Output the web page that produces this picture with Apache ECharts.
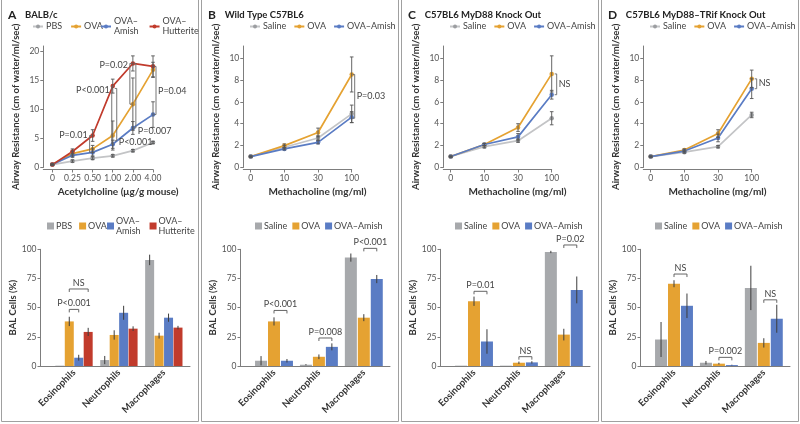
<!DOCTYPE html>
<html><head><meta charset="utf-8">
<script src="https://cdn.jsdelivr.net/npm/echarts@6/dist/echarts.min.js"></script>
<style>html,body{margin:0;padding:0;background:#fff}#c{width:800px;height:424px}</style>
</head><body><div id="c"></div>
<script>
// ================= DATA =================
const doseA = ['0', '0.25', '0.50', '1.00', '2.00', '4.00'];
const doseM = ['0', '10', '30', '100'];
const cellTypes = ['Eosinophils', 'Neutrophils', 'Macrophages'];
const panelLetters = ['A', 'B', 'C', 'D'];
const panelTitles = ['BALB/c', 'Wild Type C57BL6', 'C57BL6 MyD88 Knock Out', 'C57BL6 MyD88–TRif Knock Out'];
const yTicksA = [0, 5, 10, 15, 20];
const yTicksM = [0, 2, 4, 6, 8, 10];

const aPBS = [0.5, 1.1, 1.6, 2.0, 2.9, 4.3];
const aPBSErr = [0.1, 0.2, 0.25, 0.2, 0.2, 0.2];
const aOVA = [0.5, 2.4, 3.2, 5.5, 10.9, 16.8];
const aOVAErr = [0.1, 0.4, 0.6, 2.5, 4.5, 1.3];
const aAmish = [0.5, 2.1, 2.6, 4.0, 6.8, 9.1];
const aAmishErr = [0.1, 0.35, 0.6, 0.7, 1.1, 2.2];
const aHut = [0.5, 2.75, 5.5, 14.0, 17.9, 17.4];
const aHutErr = [0.1, 0.45, 1.0, 1.2, 1.3, 1.8];
const aBrackets = [
  [2, 5.5, 2.6, 'P=0.01', 5.6],
  [3, 14.0, 4.0, 'P<0.001', 13.4],
  [3, 13.6, 4.6, 'P<0.001', 4.3],
  [4, 17.9, 10.9, 'P=0.02', 17.7],
  [4, 17.9, 6.8, 'P=0.007', 6.2],
  [5, 17.4, 9.1, 'P=0.04', 13.2]
];

const bSaline = [1.0, 1.85, 2.7, 4.9];
const bSalineErr = [0.05, 0.15, 0.2, 0.8];
const bOVA = [1.0, 2.0, 3.2, 8.5];
const bOVAErr = [0.05, 0.15, 0.4, 1.6];
const bAmish = [1.0, 1.7, 2.3, 4.6];
const bAmishErr = [0.05, 0.1, 0.15, 0.5];
const bBrackets = [[3, 8.5, 4.5, 'P=0.03', 6.5]];

const cSaline = [1.0, 1.9, 2.45, 4.5];
const cSalineErr = [0.05, 0.1, 0.15, 0.6];
const cOVA = [1.0, 2.1, 3.65, 8.55];
const cOVAErr = [0.05, 0.1, 0.35, 1.65];
const cAmish = [1.0, 2.1, 2.8, 6.65];
const cAmishErr = [0.05, 0.1, 0.3, 0.4];
const cBrackets = [[3, 8.55, 6.65, 'NS', 7.6]];

const dSaline = [1.0, 1.4, 1.9, 4.8];
const dSalineErr = [0.05, 0.1, 0.1, 0.25];
const dOVA = [1.0, 1.6, 3.1, 8.1];
const dOVAErr = [0.05, 0.1, 0.35, 0.8];
const dAmish = [1.0, 1.5, 2.7, 7.2];
const dAmishErr = [0.05, 0.1, 0.35, 0.9];
const dBrackets = [[3, 8.1, 7.2, 'NS', 7.7]];

const balA_PBS = [0.3, 5.1, 90.9];   const balA_PBSErr = [0, 3.5, 4.5];
const balA_OVA = [38.2, 26.6, 26.0]; const balA_OVAErr = [4, 4, 2.5];
const balA_Amish = [7.1, 45.6, 41.4]; const balA_AmishErr = [2.5, 6, 3.5];
const balA_Hut = [29.2, 32.0, 32.9]; const balA_HutErr = [3.5, 2, 1.5];
const balA_Brackets = [[0, 1, 2, 48.5, 'P<0.001'], [0, 1, 3, 66, 'NS']];

const balB_Saline = [4.5, 1.1, 92.9]; const balB_SalineErr = [4, 0.5, 3.5];
const balB_OVA = [38.2, 7.9, 41.4];   const balB_OVAErr = [3.5, 2, 3];
const balB_Amish = [4.5, 16.4, 74.5]; const balB_AmishErr = [1.5, 3, 3.5];
const balB_Brackets = [[0, 1, 2, 47.6, 'P<0.001'], [1, 1, 2, 24, 'P=0.008'], [2, 1, 2, 100.8, 'P<0.001']];

const balC_Saline = [0.3, 0.3, 97.7]; const balC_SalineErr = [0, 0, 1];
const balC_OVA = [55.5, 2.8, 26.9];   const balC_OVAErr = [4, 1, 5];
const balC_Amish = [21.0, 3.1, 65.2]; const balC_AmishErr = [10.5, 1, 11.5];
const balC_Brackets = [[0, 1, 2, 64, 'P=0.01'], [1, 1, 2, 8, 'NS'], [2, 1, 2, 103.7, 'P=0.02']];

const balD_Saline = [22.7, 2.8, 66.9]; const balD_SalineErr = [15, 1.5, 19];
const balD_OVA = [70.5, 2.0, 19.8];    const balD_OVAErr = [3, 0.7, 4];
const balD_Amish = [51.6, 0.8, 40.5];  const balD_AmishErr = [10.5, 0.3, 12];
const balD_Brackets = [[0, 1, 2, 78.8, 'NS'], [1, 1, 2, 7.4, 'P=0.002'], [2, 1, 2, 56.7, 'NS']];

// ================= STYLE =================
const FONT = 'Lato';
const COL = { pbs: '#a7a9ac', pbsLine: '#c3c4c6', ova: '#e5a232', amish: '#5a7cc4', hut: '#c13b2c',
  axis: '#7d7d7d', tick: '#555', name: '#333', err: '#555', frame: '#a0a0a0' };

const grids = [], xAxes = [], yAxes = [], series = [], legends = [], titles = [], graphics = [];

function axisCommon() {
  return {
    axisLine: { onZero: false, lineStyle: { color: COL.axis, width: 1 } },
    axisTick: { length: 3, lineStyle: { color: COL.axis } },
    splitLine: { show: false },
    axisLabel: { fontSize: 8.5, color: COL.tick, fontFamily: FONT, margin: 4 }
  };
}

function errSeries(gi, vals, errs, cap) {
  return {
    type: 'custom', xAxisIndex: gi, yAxisIndex: gi, silent: true, z: 4, clip: false,
    data: vals.map((v, i) => [i, v - errs[i], v + errs[i]]),
    renderItem(params, api) {
      const lo = api.coord([api.value(0), api.value(1)]);
      const hi = api.coord([api.value(0), api.value(2)]);
      const st = { stroke: COL.err, lineWidth: 0.9 };
      return { type: 'group', children: [
        { type: 'line', shape: { x1: lo[0], y1: lo[1], x2: hi[0], y2: hi[1] }, style: st },
        { type: 'line', shape: { x1: lo[0] - cap, y1: lo[1], x2: lo[0] + cap, y2: lo[1] }, style: st },
        { type: 'line', shape: { x1: hi[0] - cap, y1: hi[1], x2: hi[0] + cap, y2: hi[1] }, style: st }
      ] };
    }
  };
}

function lineBracketSeries(gi, brackets, styles) {
  return {
    type: 'custom', xAxisIndex: gi, yAxisIndex: gi, silent: true, z: 6, clip: false,
    data: brackets.map(b => [b[0], b[1], b[2]]),
    renderItem(params, api) {
      const b = brackets[params.dataIndex], s = styles[params.dataIndex];
      const p1 = api.coord([b[0], b[1]]), p2 = api.coord([b[0], b[2]]), pl = api.coord([b[0], b[4]]);
      const x = p1[0] + s.dx;
      const t = s.dx < 0 ? 2 : -2;
      const st = { stroke: '#666', lineWidth: 0.9 };
      return { type: 'group', children: [
        { type: 'line', shape: { x1: x, y1: p1[1], x2: x, y2: p2[1] }, style: st },
        { type: 'line', shape: { x1: x, y1: p1[1], x2: x + t, y2: p1[1] }, style: st },
        { type: 'line', shape: { x1: x, y1: p2[1], x2: x + t, y2: p2[1] }, style: st },
        { type: 'text', x: s.side === 'left' ? x - 2 : x + 2, y: pl[1],
          style: { text: b[3], align: s.side === 'left' ? 'right' : 'left', verticalAlign: 'middle',
            fill: '#444', fontSize: 9, fontFamily: FONT } }
      ] };
    }
  };
}

function linePanel(k, cats, xMin, yMax, yTicks, xName, defs, brackets, bStyles) {
  const gi = grids.length;
  const width = k === 0 ? 109.7 : 108.4;
  grids.push({ left: 43.3 + 200 * k, top: 46, width: width, height: 121.5 });
  const idx = cats.map((c, i) => i);
  const xa = axisCommon();
  xAxes.push(Object.assign(xa, {
    gridIndex: gi, type: 'value', min: xMin, max: cats.length - 1, offset: 2,
    axisTick: Object.assign(xa.axisTick, { customValues: idx }),
    axisLabel: Object.assign(xa.axisLabel, { customValues: idx, formatter: v => cats[Math.round(v)] }),
    name: xName, nameLocation: 'middle', nameGap: 17,
    nameTextStyle: { fontSize: 10, fontWeight: 'bold', color: COL.name, fontFamily: FONT, padding: [0, 0, 0, 40] }
  }));
  const ya = axisCommon();
  yAxes.push(Object.assign(ya, {
    gridIndex: gi, type: 'value', min: 0, max: yMax,
    axisTick: Object.assign(ya.axisTick, { customValues: yTicks }),
    axisLabel: Object.assign(ya.axisLabel, { customValues: yTicks }),
    name: 'Airway Resistance (cm of water/ml/sec)', nameLocation: 'middle', nameGap: 22,
    nameTextStyle: { fontSize: 9.5, fontWeight: 'bold', color: COL.name, fontFamily: FONT }
  }));
  defs.forEach(d => {
    series.push({
      type: 'line', name: d.name, xAxisIndex: gi, yAxisIndex: gi, z: 3,
      data: d.vals.map((v, i) => [i, v]), symbol: 'circle', symbolSize: 4.5,
      lineStyle: { color: d.line || d.color, width: 1.7 },
      itemStyle: { color: d.color }
    });
    series.push(errSeries(gi, d.vals, d.errs, 1.8));
  });
  series.push(lineBracketSeries(gi, brackets, bStyles));
}

function barErrSeries(gi, sIdx, n, bw, gapR, vals, errs) {
  const step = bw * (1 + gapR);
  const off = (sIdx - (n - 1) / 2) * step;
  return {
    type: 'custom', xAxisIndex: gi, yAxisIndex: gi, silent: true, z: 4, clip: false,
    data: vals.map((v, i) => [i, v - errs[i], v + errs[i]]),
    renderItem(params, api) {
      if (api.value(2) - api.value(1) <= 0) return null;
      const lo = api.coord([api.value(0), Math.max(0, api.value(1))]);
      const hi = api.coord([api.value(0), api.value(2)]);
      return { type: 'line', shape: { x1: lo[0] + off, y1: lo[1], x2: hi[0] + off, y2: hi[1] },
        style: { stroke: '#3d3d3d', lineWidth: 1 } };
    }
  };
}

function barBracketSeries(gi, n, bw, gapR, brackets) {
  const step = bw * (1 + gapR);
  return {
    type: 'custom', xAxisIndex: gi, yAxisIndex: gi, silent: true, z: 6, clip: false,
    data: brackets.map(b => [b[0], b[3]]),
    renderItem(params, api) {
      const b = brackets[params.dataIndex];
      const p = api.coord([b[0], b[3]]);
      const x1 = p[0] + (b[1] - (n - 1) / 2) * step, x2 = p[0] + (b[2] - (n - 1) / 2) * step;
      const st = { stroke: '#555', lineWidth: 0.9 };
      return { type: 'group', children: [
        { type: 'line', shape: { x1: x1, y1: p[1], x2: x2, y2: p[1] }, style: st },
        { type: 'line', shape: { x1: x1, y1: p[1], x2: x1, y2: p[1] + 3 }, style: st },
        { type: 'line', shape: { x1: x2, y1: p[1], x2: x2, y2: p[1] + 3 }, style: st },
        { type: 'text', x: (x1 + x2) / 2, y: p[1] - 1.5,
          style: { text: b[4], align: 'center', verticalAlign: 'bottom', fill: '#444', fontSize: 9, fontFamily: FONT } }
      ] };
    }
  };
}

function barPanel(k, defs, bw, gapR, brackets) {
  const gi = grids.length;
  grids.push({ left: 40.5 + 200 * k, top: 249.3, width: 149.5, height: 116.7 });
  const xa = axisCommon();
  xAxes.push(Object.assign(xa, {
    gridIndex: gi, type: 'value', min: -0.746, max: 2.583,
    axisTick: { show: false },
    axisLabel: Object.assign(xa.axisLabel, { customValues: [0, 1, 2], formatter: v => cellTypes[Math.round(v)],
      rotate: 45, fontWeight: 'bold', color: '#333', fontSize: 9.5, margin: 5 })
  }));
  const ya = axisCommon();
  yAxes.push(Object.assign(ya, {
    gridIndex: gi, type: 'value', min: 0, max: 100, interval: 25,
    name: 'BAL Cells (%)', nameLocation: 'middle', nameGap: 20,
    nameTextStyle: { fontSize: 9.5, fontWeight: 'bold', color: COL.name, fontFamily: FONT }
  }));
  defs.forEach((d) => {
    series.push({
      type: 'bar', name: 'bar:' + d.name, xAxisIndex: gi, yAxisIndex: gi, z: 2,
      data: d.vals.map((v, i) => [i, v]), barWidth: bw, barGap: (gapR * 100) + '%',
      itemStyle: { color: d.color }
    });
  });
  defs.forEach((d, si) => series.push(barErrSeries(gi, si, defs.length, bw, gapR, d.vals, d.errs)));
  series.push(barBracketSeries(gi, defs.length, bw, gapR, brackets));
}

const LTXT = { fontSize: 9, color: '#444', fontFamily: FONT, lineHeight: 10 };
function legend(names, left, top, isLine, twoLine, gap) {
  const pl = isLine ? -2 : -3;
  legends.push({
    data: names, left: left, top: top, orient: 'horizontal', padding: 0,
    itemWidth: isLine ? 10 : 7, itemHeight: isLine ? 5 : 7, itemGap: gap,
    icon: isLine ? undefined : 'rect', selectedMode: false,
    formatter: n => { n = n.replace('bar:', ''); return twoLine ? n.replace('–', '–\n') : n; },
    textStyle: Object.assign({}, LTXT, { padding: twoLine ? [10, 0, 0, pl] : [0, 0, 0, pl] })
  });
}

// ---- top row ----
linePanel(0, doseA, -0.45, 20.9, yTicksA, 'Acetylcholine (μg/g mouse)', [
  { name: 'PBS', vals: aPBS, errs: aPBSErr, color: '#9c9ea1', line: COL.pbsLine },
  { name: 'OVA', vals: aOVA, errs: aOVAErr, color: COL.ova },
  { name: 'OVA–Amish', vals: aAmish, errs: aAmishErr, color: COL.amish },
  { name: 'OVA–Hutterite', vals: aHut, errs: aHutErr, color: COL.hut }
], aBrackets, [
  { dx: -3, side: 'left' }, { dx: -1, side: 'left' }, { dx: 4, side: 'right' },
  { dx: -3, side: 'left' }, { dx: 3, side: 'right' }, { dx: 3, side: 'right' }
]);
const mDefs = (s, se, o, oe, a, ae) => [
  { name: 'Saline', vals: s, errs: se, color: '#9c9ea1', line: COL.pbsLine },
  { name: 'OVA', vals: o, errs: oe, color: COL.ova },
  { name: 'OVA–Amish', vals: a, errs: ae, color: COL.amish }
];
linePanel(1, doseM, -0.22, 11.1, yTicksM, 'Methacholine (mg/ml)', mDefs(bSaline, bSalineErr, bOVA, bOVAErr, bAmish, bAmishErr), bBrackets, [{ dx: 3, side: 'right' }]);
linePanel(2, doseM, -0.22, 11.1, yTicksM, 'Methacholine (mg/ml)', mDefs(cSaline, cSalineErr, cOVA, cOVAErr, cAmish, cAmishErr), cBrackets, [{ dx: 5, side: 'right' }]);
linePanel(3, doseM, -0.22, 11.1, yTicksM, 'Methacholine (mg/ml)', mDefs(dSaline, dSalineErr, dOVA, dOVAErr, dAmish, dAmishErr), dBrackets, [{ dx: 5, side: 'right' }]);

// ---- bottom row ----
barPanel(0, [
  { name: 'PBS', vals: balA_PBS, errs: balA_PBSErr, color: COL.pbs },
  { name: 'OVA', vals: balA_OVA, errs: balA_OVAErr, color: COL.ova },
  { name: 'OVA–Amish', vals: balA_Amish, errs: balA_AmishErr, color: COL.amish },
  { name: 'OVA–Hutterite', vals: balA_Hut, errs: balA_HutErr, color: COL.hut }
], 9, 0.05, balA_Brackets);
const bDefs = (s, se, o, oe, a, ae) => [
  { name: 'Saline', vals: s, errs: se, color: COL.pbs },
  { name: 'OVA', vals: o, errs: oe, color: COL.ova },
  { name: 'OVA–Amish', vals: a, errs: ae, color: COL.amish }
];
barPanel(1, bDefs(balB_Saline, balB_SalineErr, balB_OVA, balB_OVAErr, balB_Amish, balB_AmishErr), 12, 0.08, balB_Brackets);
barPanel(2, bDefs(balC_Saline, balC_SalineErr, balC_OVA, balC_OVAErr, balC_Amish, balC_AmishErr), 12, 0.08, balC_Brackets);
barPanel(3, bDefs(balD_Saline, balD_SalineErr, balD_OVA, balD_OVAErr, balD_Amish, balD_AmishErr), 12, 0.08, balD_Brackets);

// ---- legends ----
legend(['PBS', 'OVA'], 32, 21.5, true, false, 8);
legend(['OVA–Amish', 'OVA–Hutterite'], 100, 11.5, true, true, 10);
legend(['bar:PBS', 'bar:OVA'], 47, 221, false, false, 7);
legend(['bar:OVA–Amish', 'bar:OVA–Hutterite'], 107, 211, false, true, 9);
for (let k = 1; k < 4; k++) {
  legend(['Saline', 'OVA', 'OVA–Amish'], 249 + 200 * (k - 1), 21.5, true, false, 7);
  legend(['bar:Saline', 'bar:OVA', 'bar:OVA–Amish'], 255 + 200 * (k - 1), 221, false, false, 5);
}

// ---- titles ----
for (let k = 0; k < 4; k++) {
  titles.push({
    text: '{l|' + panelLetters[k] + '}  {t|' + panelTitles[k] + '}', left: 8 + 200 * k, top: 6, padding: 0,
    textStyle: { rich: {
      l: { fontSize: 12, fontWeight: 'bold', color: '#222', fontFamily: FONT },
      t: { fontSize: 9.5, fontWeight: 'bold', color: '#222', fontFamily: FONT }
    } }
  });
}

// ---- panel frames ----
for (let k = 0; k < 4; k++) {
  graphics.push({ type: 'rect', silent: true, shape: { x: 1.5 + 200 * k, y: -2, width: 197, height: 423.5 },
    style: { fill: 'none', stroke: COL.frame, lineWidth: 1 } });
}

const chart = echarts.init(document.getElementById('c'), null, { renderer: 'canvas', width: 800, height: 424 });
chart.setOption({
  animation: false,
  textStyle: { fontFamily: FONT },
  title: titles,
  grid: grids, xAxis: xAxes, yAxis: yAxes,
  legend: legends,
  series: series,
  graphic: graphics
});
</script>
</body></html>
